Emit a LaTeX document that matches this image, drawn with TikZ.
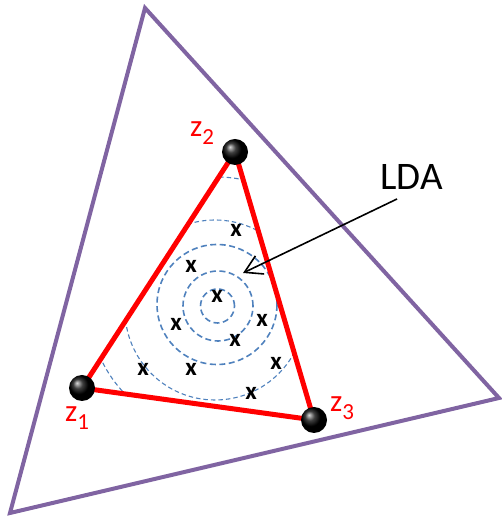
\documentclass[tikz,border=0pt]{standalone}
\usepackage{fontspec}
\setmainfont{Carlito}
\usetikzlibrary{arrows.meta}
\definecolor{outerpurple}{RGB}{128,100,162}
\definecolor{simplexred}{RGB}{255,0,0}
\definecolor{contourblue}{RGB}{79,129,189}
\newcommand{\zsubfont}{\fontsize{23}{23}\selectfont}
\begin{document}
\begin{tikzpicture}[x=1pt,y=1pt,
  outertri/.style={draw=outerpurple,line width=4pt,line join=miter},
  simplex/.style={draw=simplexred,line width=5pt,line join=round},
  ballnode/.style={circle,minimum size=26pt,inner sep=0pt,ball color=black},
  xmark/.style={font=\fontsize{25}{25}\selectfont\bfseries,inner sep=0pt},
  innerring/.style={draw=contourblue,line width=1.6pt,dash pattern=on 6pt off 3.5pt},
  outerring/.style={draw=contourblue,line width=1.1pt,dash pattern=on 4.5pt off 3pt},
  zlabel/.style={text=simplexred,inner sep=0pt,anchor=base west,font=\fontsize{31}{31}\selectfont},
  ldalabel/.style={inner sep=0pt,anchor=base west,font=\fontsize{39}{39}\selectfont},
  pointer/.style={draw=black,line width=1.6pt,-{Straight Barb[length=17pt,width=20pt]}}
]
\useasboundingbox (0,0) rectangle (501,518);
% outer triangle
\coordinate (oa) at (145,510);
\coordinate (ob) at (10,5);
\coordinate (oc) at (499,120);
\draw[outertri] (oa) -- (ob) -- (oc) -- cycle;
% vertex positions
\coordinate (p1) at (82,130);
\coordinate (p2) at (235,366);
\coordinate (p3) at (314,98);
% contours
\begin{scope}
\clip (p1) -- (p2) -- (p3) -- cycle;
\draw[innerring] (217.5,212) circle (17pt);
\draw[innerring] (218,212) circle (35pt);
\draw[innerring] (217,213.5) circle (60pt);
\draw[outerring] (215,208) circle (90pt);
\draw[outerring] ([shift={(40:128pt)}]217,213) arc[start angle=40,end angle=140,radius=128pt];
\draw[outerring] ([shift={(180:128pt)}]217,213) arc[start angle=180,end angle=260,radius=128pt];
\end{scope}
% red simplex
\draw[simplex] (p1) -- (p2) -- (p3) -- cycle;
\node[ballnode] (z1) at (p1) {};
\node[ballnode] (z2) at (p2) {};
\node[ballnode] (z3) at (p3) {};
% x marks
\node[xmark] (x1) at (236,288) {x};
\node[xmark] (x2) at (191,252) {x};
\node[xmark] (x3) at (217,222) {x};
\node[xmark] (x4) at (176,194) {x};
\node[xmark] (x5) at (262,198) {x};
\node[xmark] (x6) at (235,178) {x};
\node[xmark] (x7) at (143,149) {x};
\node[xmark] (x8) at (191,149) {x};
\node[xmark] (x9) at (276,155) {x};
\node[xmark] (x10) at (251,125) {x};
% labels
\node[zlabel] (lz2) at (190,381) {z\raisebox{-8pt}{\zsubfont 2}};
\node[zlabel] (lz1) at (65,96) {z\raisebox{-8pt}{\zsubfont 1}};
\node[zlabel] (lz3) at (330,106) {z\raisebox{-8pt}{\zsubfont 3}};
\node[ldalabel] (lda) at (380,328) {LDA};
% arrow
\coordinate (ldatail) at (397,319);
\coordinate (ldatip) at (243,245);
\draw[pointer] (ldatail) -- (ldatip);
\end{tikzpicture}
\end{document}
